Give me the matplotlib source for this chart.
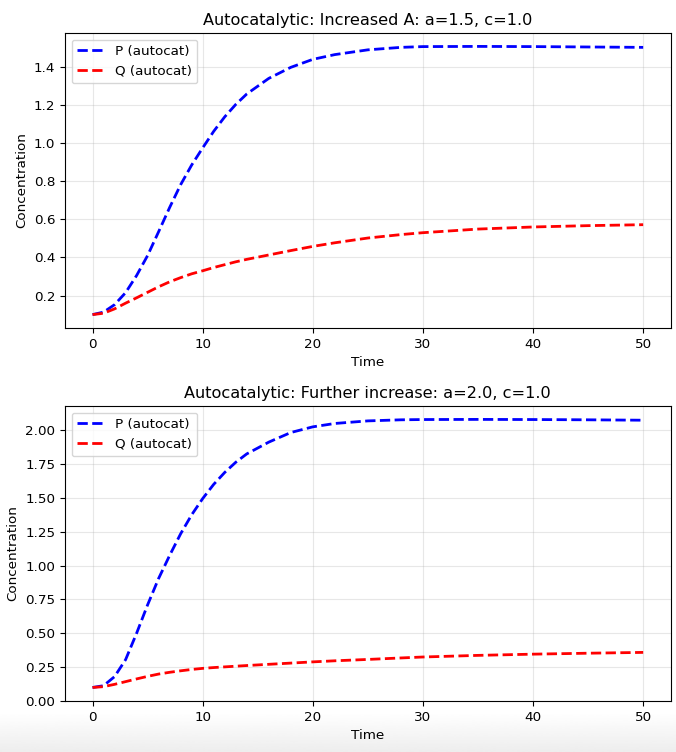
import numpy as np
import matplotlib
matplotlib.use("Agg")
import matplotlib.pyplot as plt

# Values
t_top = [0, 1, 2, 3, 4, 5, 6, 7, 8, 9, 10, 11, 12, 13, 14, 16, 18, 20, 22, 25, 28, 30, 35, 40, 45, 50]
p_top = [0.100, 0.113, 0.152, 0.215, 0.305, 0.410, 0.535, 0.662, 0.782, 0.885, 0.975, 1.062,
         1.138, 1.203, 1.258, 1.340, 1.398, 1.440, 1.465, 1.490, 1.503, 1.507, 1.508, 1.507, 1.505, 1.503]
q_top = [0.100, 0.107, 0.130, 0.160, 0.188, 0.217, 0.246, 0.272, 0.294, 0.314, 0.330, 0.347,
         0.362, 0.377, 0.390, 0.413, 0.436, 0.458, 0.477, 0.502, 0.520, 0.530, 0.549, 0.560, 0.567, 0.572]

t_bot = [0, 1, 2, 3, 4, 5, 6, 7, 8, 9, 10, 11, 12, 13, 14, 16, 18, 20, 22, 25, 28, 30, 35, 40, 45, 50]
p_bot = [0.100, 0.113, 0.180, 0.305, 0.500, 0.710, 0.905, 1.075, 1.235, 1.375, 1.495, 1.600,
         1.688, 1.763, 1.825, 1.912, 1.983, 2.025, 2.050, 2.069, 2.077, 2.079, 2.080, 2.079, 2.077, 2.074]
q_bot = [0.100, 0.106, 0.123, 0.143, 0.163, 0.182, 0.199, 0.212, 0.223, 0.233, 0.241, 0.247,
         0.252, 0.257, 0.262, 0.271, 0.280, 0.289, 0.297, 0.307, 0.318, 0.325, 0.337, 0.346, 0.353, 0.359]

titles = ["Autocatalytic: Increased A: a=1.5, c=1.0",
          "Autocatalytic: Further increase: a=2.0, c=1.0"]

plt.rcParams["font.size"] = 9.7

W, H = 676, 752
fig = plt.figure(figsize=(W / 100, H / 100), dpi=100)

# soft grey shading at the bottom edge of the screenshot
bg = fig.add_axes([0, 0, 1, 40 / H], zorder=-5)
grad = np.linspace(0.93, 1.0, 64).reshape(-1, 1)
bg.imshow(grad, cmap="gray", vmin=0, vmax=1, aspect="auto", origin="lower",
          extent=[0, 1, 0, 1])
bg.axis("off")

left = 65 / W
width = 605.7 / W
ax1 = fig.add_axes([left, 1 - 328 / H, width, 295 / H])
ax2 = fig.add_axes([left, 1 - 701 / H, width, 295 / H])

for ax, t, p, q, title in [(ax1, t_top, p_top, q_top, titles[0]),
                           (ax2, t_bot, p_bot, q_bot, titles[1])]:
    ax.plot(t, p, "b--", lw=2, label="P (autocat)")
    ax.plot(t, q, "r--", lw=2, label="Q (autocat)")
    ax.set_title(title, fontsize=11.6)
    ax.set_xlabel("Time")
    ax.set_ylabel("Concentration")
    ax.legend(loc="upper left")
    ax.grid(True, alpha=0.3)

ax2.set_ylim(bottom=0)

fig.savefig("out.png", dpi=100)
